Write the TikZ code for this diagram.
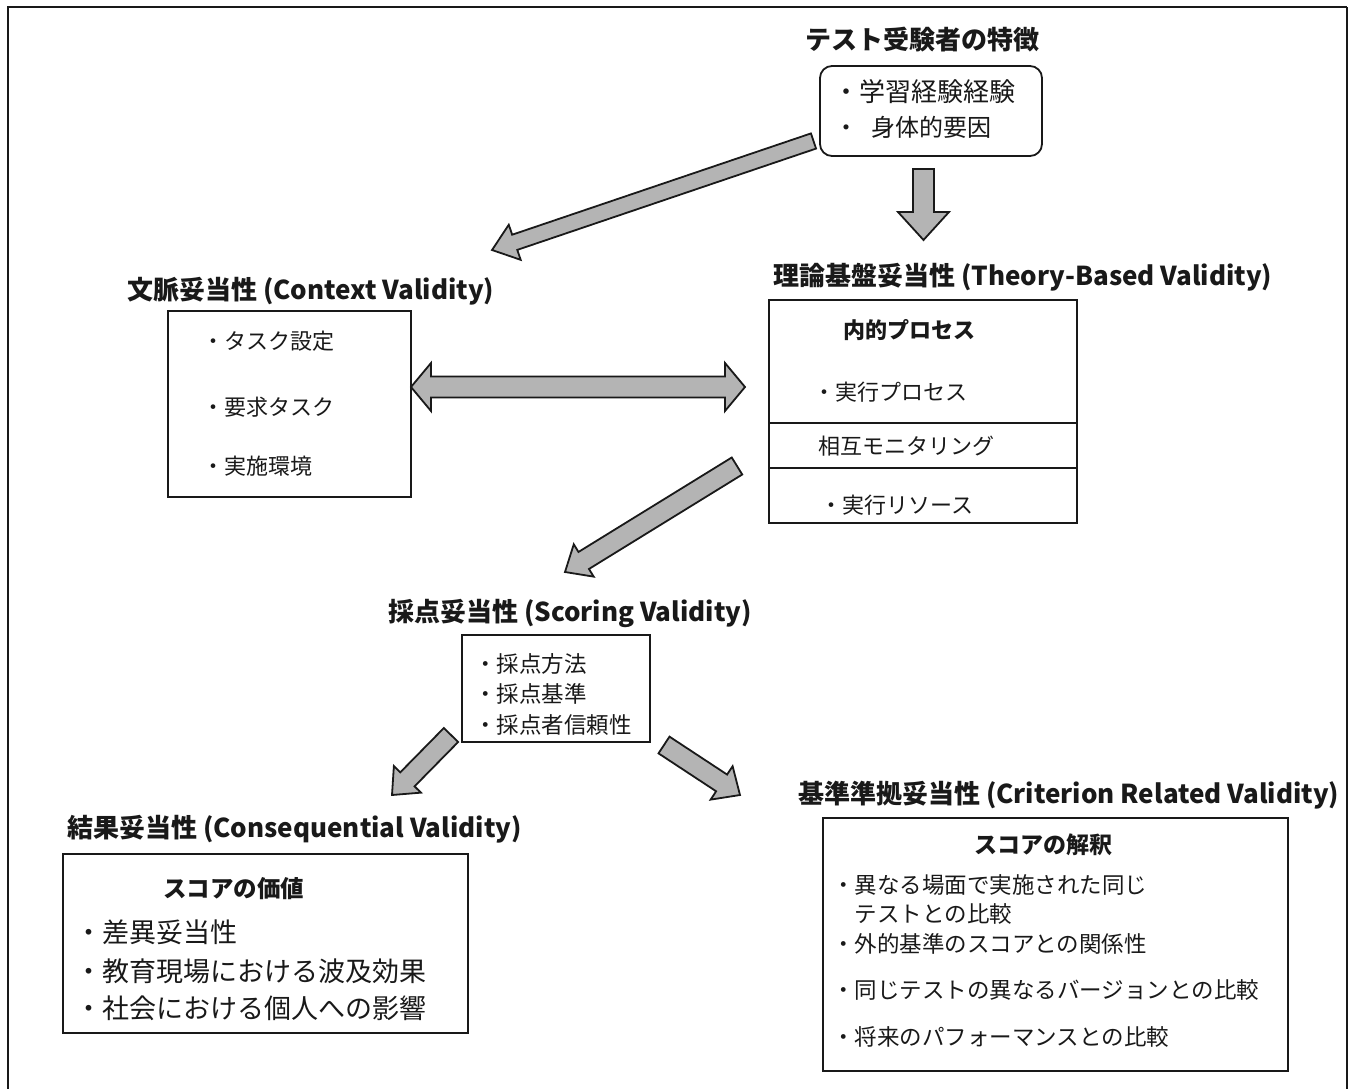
\documentclass[tikz,border=0pt]{standalone}
\usepackage{fontspec}
\setmainfont{Noto Sans CJK JP}
\usetikzlibrary{calc}
\definecolor{arrfill}{RGB}{180,180,180}
\definecolor{ink}{RGB}{25,25,25}
\tikzset{
  boxline/.style={draw=ink, line width=1.8pt},
  blockarr/.style={draw=ink, line width=1.8pt, fill=arrfill, line join=miter},
  ttl/.style={inner sep=0pt, anchor=west, text=ink, font=\bfseries\fontsize{26}{30}\selectfont},
  itm/.style={inner sep=0pt, anchor=west, text=ink},
}
\newcommand\blockarrow[5]{%
  \coordinate (ba-h) at ($(#2)!#5!(#1)$);
  \draw[blockarr] ($(#1)!#3!90:(#2)$) -- ($(ba-h)!#3!90:(#2)$) -- ($(ba-h)!#4!90:(#2)$) -- (#2)
    -- ($(ba-h)!#4!-90:(#2)$) -- ($(ba-h)!#3!-90:(#2)$) -- ($(#1)!#3!-90:(#2)$) -- cycle;
}
\begin{document}
\begin{tikzpicture}[x=1pt,y=-1pt]
\useasboundingbox (0,0) rectangle (1352,1088);
\fill[white] (0,0) rectangle (1352,1088);
% outer frame
\draw[draw=ink, line width=2pt] (8,1095) -- (8,7) -- (1347,7);
\draw[draw=ink, line width=1.2pt] (1347,7) -- (1347,1095);

% top: candidate characteristics
\node[ttl] (t-top) at (805,40) {テスト受験者の特徴};
\node[boxline, rounded corners=12pt, minimum width=222, minimum height=90, inner sep=0pt] (cand) at (931,111) {};
\node[itm, font=\fontsize{26}{30}\selectfont] (c1) at (833,92) {・学習経験経験};
\node[itm, font=\fontsize{24}{30}\selectfont] (c2) at (834,127) {・\hspace{13pt}身体的要因};

% context validity
\node[ttl] (t-ctx) at (127,291) {文脈妥当性 (Context Validity)};
\node[boxline, minimum width=243, minimum height=186, inner sep=0pt] (ctx) at (289.5,404) {};
\node[itm, font=\fontsize{22}{26}\selectfont] (x1) at (202,341) {・タスク設定};
\node[itm, font=\fontsize{22}{26}\selectfont] (x2) at (202,407) {・要求タスク};
\node[itm, font=\fontsize{22}{26}\selectfont] (x3) at (202,466) {・実施環境};

% theory-based validity
\node[ttl] (t-thy) at (773,277) {理論基盤妥当性 (Theory-Based Validity)};
\node[boxline, minimum width=308, minimum height=223, inner sep=0pt] (thy) at (923,411.5) {};
\coordinate (d1) at (0,423);
\coordinate (d2) at (0,468);
\draw[boxline] (thy.west |- d1) -- (thy.east |- d1);
\draw[boxline] (thy.west |- d2) -- (thy.east |- d2);
\node[itm, font=\bfseries\fontsize{22}{26}\selectfont] (y0) at (843,330) {内的プロセス};
\node[itm, font=\fontsize{22}{26}\selectfont] (y1) at (813,392) {・実行プロセス};
\node[itm, font=\fontsize{22}{26}\selectfont] (y2) at (818,446) {相互モニタリング};
\node[itm, font=\fontsize{22}{26}\selectfont] (y3) at (820,505) {・実行リソース};

% scoring validity
\node[ttl] (t-scr) at (388,613) {採点妥当性 (Scoring Validity)};
\node[boxline, minimum width=188, minimum height=107, inner sep=0pt] (scr) at (556,688.5) {};
\node[itm, font=\fontsize{22.5}{26}\selectfont] (s1) at (474,664) {・採点方法};
\node[itm, font=\fontsize{22.5}{26}\selectfont] (s2) at (474,694) {・採点基準};
\node[itm, font=\fontsize{22.5}{26}\selectfont] (s3) at (474,725) {・採点者信頼性};

% consequential validity
\node[ttl] (t-csq) at (67,829) {結果妥当性 (Consequential Validity)};
\node[boxline, minimum width=405, minimum height=179, inner sep=0pt] (csq) at (265.5,943.5) {};
\node[itm, font=\bfseries\fontsize{23.5}{28}\selectfont] (q0) at (163,889) {スコアの価値};
\node[itm, font=\fontsize{27}{30}\selectfont] (q1) at (75,932) {・差異妥当性};
\node[itm, font=\fontsize{27}{30}\selectfont] (q2) at (75,971) {・教育現場における波及効果};
\node[itm, font=\fontsize{27}{30}\selectfont] (q3) at (75,1008) {・社会における個人への影響};

% criterion related validity
\node[ttl] (t-crt) at (798,795) {基準準拠妥当性 (Criterion Related Validity)};
\node[boxline, minimum width=465, minimum height=253, inner sep=0pt] (crt) at (1055.5,944.5) {};
\node[itm, font=\bfseries\fontsize{23}{28}\selectfont] (r0) at (974,845) {スコアの解釈};
\node[itm, font=\fontsize{22.5}{26}\selectfont] (r1) at (832,885) {・異なる場面で実施された同じ};
\node[itm, font=\fontsize{22.5}{26}\selectfont] (r1b) at (854.5,914) {テストとの比較};
\node[itm, font=\fontsize{22.5}{26}\selectfont] (r2) at (832,944) {・外的基準のスコアとの関係性};
\node[itm, font=\fontsize{22.5}{26}\selectfont] (r3) at (832,990) {・同じテストの異なるバージョンとの比較};
\node[itm, font=\fontsize{22.5}{26}\selectfont] (r4) at (832,1037) {・将来のパフォーマンスとの比較};

% block arrows
\coordinate (a1s) at (813.5,141);
\coordinate (a1e) at (492,250);
\blockarrow{a1s}{a1e}{8pt}{18.5pt}{24pt}
\coordinate (a2s) at (923.5,169);
\coordinate (a2e) at (923.5,240);
\blockarrow{a2s}{a2e}{10.5pt}{25.5pt}{28pt}
\coordinate (a3s) at (737,466);
\coordinate (a3e) at (565,572);
\blockarrow{a3s}{a3e}{10pt}{19pt}{22pt}
\coordinate (a4s) at (451,735);
\coordinate (a4e) at (392,795);
\blockarrow{a4s}{a4e}{10pt}{19pt}{22pt}
\coordinate (a5s) at (664,745);
\coordinate (a5e) at (740,795);
\blockarrow{a5s}{a5e}{10pt}{20pt}{22pt}
% double arrow between context and theory
\coordinate (dl) at (411,387);
\coordinate (dr) at (745,387);
\draw[blockarr] (dl) -- ($(dl)+(20,-24)$) -- ($(dl)+(20,-10.5)$) -- ($(dr)+(-20,-10.5)$)
  -- ($(dr)+(-20,-24)$) -- (dr) -- ($(dr)+(-20,24)$) -- ($(dr)+(-20,10.5)$)
  -- ($(dl)+(20,10.5)$) -- ($(dl)+(20,24)$) -- cycle;
\end{tikzpicture}
\end{document}
